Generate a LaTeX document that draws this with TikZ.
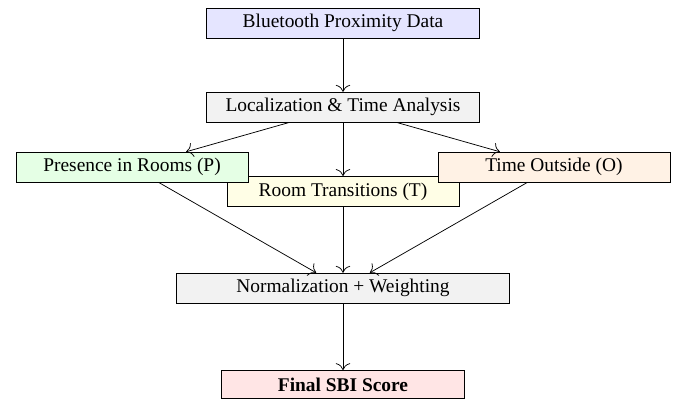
\documentclass[tikz,border=0pt]{standalone}
\usepackage{fontspec}
\setmainfont{Liberation Serif}
\usetikzlibrary{positioning,arrows.meta}

\begin{document}
\begin{tikzpicture} [auto, node distance=1.6cm, >={To[scale=1.5]},
                    stage/.style={rectangle,draw,minimum height=0.57cm,minimum width=4.41cm,inner sep=2pt,font=\fontsize{10.5}{12}\selectfont}]

\useasboundingbox (0,0) rectangle (13.04,-7.64);

\node[stage, fill=blue!10, minimum width=5.19cm] (data) at (6.52,-0.437) {Bluetooth Proximity Data};
\node[stage, fill=gray!10, minimum width=5.19cm] (loc) [below of=data] {Localization \& Time Analysis};
\node[stage, fill=yellow!10] (trans) [below of=loc] {Room Transitions (T)};
\node[stage, fill=green!10] (pres) [left of=trans, node distance=4.01cm, yshift=0.46cm] {Presence in Rooms (P)};
\node[stage, fill=orange!10] (out) [right of=trans, node distance=4.01cm, yshift=0.46cm] {Time Outside (O)};
\node[stage, fill=gray!10, minimum width=6.33cm] (norm) [below of=trans, node distance=1.84cm] {Normalization + Weighting};
\node[stage, fill=red!10, minimum width=4.62cm, minimum height=0.53cm] (score) [below of=norm, node distance=1.83cm] {\textbf{Final SBI Score}};

 \path[->]
    (data) edge (loc)
    (loc) edge (pres)
    (loc) edge (trans)
    (loc) edge (out)
    (pres) edge (norm)
    (trans) edge (norm)
    (out) edge (norm)
    (norm) edge (score);
\end{tikzpicture}
\end{document}
